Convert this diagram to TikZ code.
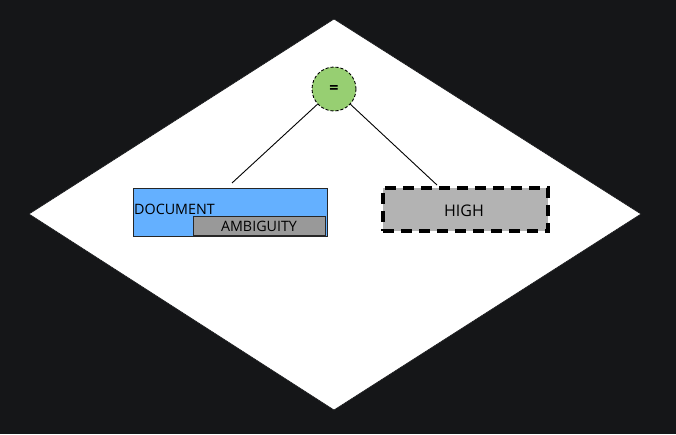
\documentclass[tikz,border=0pt]{standalone}
\usepackage{fontspec}
\setmainfont{Open Sans}
\begin{document}
\begin{tikzpicture}[x=1pt,y=-1pt,
  box/.style={draw=black!85, line width=0.9pt, inner sep=0pt, anchor=north west},
  lbl/.style={font=\fontsize{14.3}{16}\selectfont, text=black, inner sep=0pt},
  link/.style={draw=black, line width=0.9pt}]
\definecolor{bg}{HTML}{151618}
\definecolor{docblue}{HTML}{64B0FF}
\definecolor{ambgray}{HTML}{999999}
\definecolor{highgray}{HTML}{B3B3B3}
\definecolor{eqgreen}{HTML}{97CF72}
\fill[bg] (0,0) rectangle (676,434);
\useasboundingbox (0,0) rectangle (676,434);
\draw[fill=white, draw=bg, line width=0.6pt] (334,19) -- (641,214) -- (334,410) -- (29,214) -- cycle;
% equals node
\node[circle, draw=black, dash pattern=on 3pt off 2pt, fill=eqgreen, minimum size=44pt, inner sep=0pt, line width=0.9pt,
  font=\bfseries\fontsize{16}{18}\selectfont] (eq) at (334,89) {=};
% document box
\node[box, fill=docblue, minimum width=194pt, minimum height=48pt] (doc) at (133,188) {};
\node[lbl, anchor=base west] (doctext) at (134,214) {DOCUMENT};
\node[box, fill=ambgray, minimum width=132pt, minimum height=19pt] (amb) at (193,216) {};
\node[lbl] (ambtext) at (259,226) {AMBIGUITY};
% high box
\node[box, fill=highgray, draw=black, line width=3.5pt, dash pattern=on 11pt off 7pt,
  minimum width=165pt, minimum height=43pt] (high) at (381,186) {};
\node[lbl, font=\fontsize{16}{18}\selectfont] (hightext) at (464,211) {HIGH};
% connectors
\coordinate (docend) at (232,183);
\coordinate (highend) at (437,185);
\draw[link] (eq) -- (docend);
\draw[link] (eq) -- (highend);
\end{tikzpicture}
\end{document}
